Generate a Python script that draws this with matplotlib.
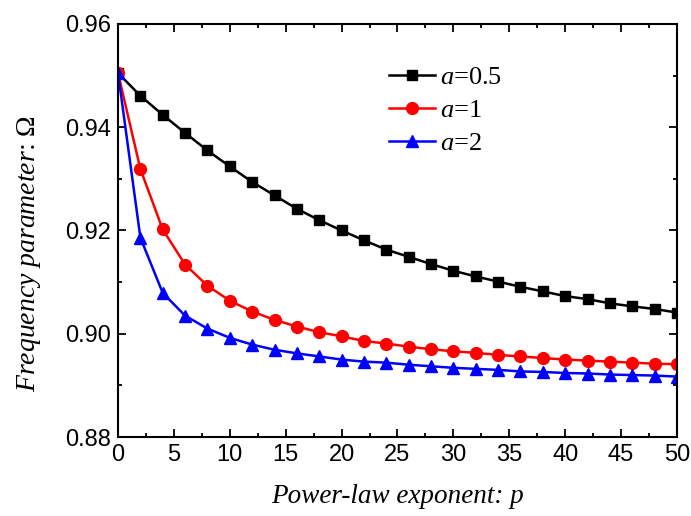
import matplotlib
matplotlib.use("Agg")
import matplotlib.pyplot as plt
from matplotlib.ticker import MultipleLocator

p = [0, 2, 4, 6, 8, 10, 12, 14, 16, 18, 20, 22, 24, 26, 28, 30, 32, 34, 36, 38, 40, 42, 44, 46, 48, 50]
omega_a05 = [0.9505, 0.9461, 0.9424, 0.9389, 0.9355, 0.9324, 0.9294, 0.9268, 0.9242, 0.9220,
             0.9200, 0.9181, 0.9163, 0.9149, 0.9135, 0.9122, 0.9111, 0.9101, 0.9091, 0.9082,
             0.9073, 0.9067, 0.9059, 0.9053, 0.9048, 0.9041]
omega_a1 = [0.9505, 0.9319, 0.9202, 0.9134, 0.9093, 0.9064, 0.9043, 0.9027, 0.9014, 0.9003,
            0.8995, 0.8986, 0.8981, 0.8975, 0.8970, 0.8966, 0.8963, 0.8959, 0.8956, 0.8953,
            0.8950, 0.8948, 0.8946, 0.8944, 0.8942, 0.8941]
omega_a2 = [0.9505, 0.9186, 0.9079, 0.9035, 0.9010, 0.8992, 0.8979, 0.8969, 0.8962, 0.8956,
            0.8950, 0.8946, 0.8944, 0.8940, 0.8937, 0.8934, 0.8932, 0.8930, 0.8927, 0.8926,
            0.8924, 0.8923, 0.8921, 0.8920, 0.8919, 0.8917]
labels = [r'$a$=0.5', r'$a$=1', r'$a$=2']

plt.rcParams['mathtext.fontset'] = 'custom'
plt.rcParams['mathtext.rm'] = 'Liberation Serif'
plt.rcParams['mathtext.it'] = 'Liberation Serif:italic'

fig = plt.figure(figsize=(6.91, 5.16), dpi=100)
ax = fig.add_axes([0.1708, 0.1531, 0.8089, 0.8004])

ax.plot(p, omega_a05, color='black', lw=1.8, marker='s', ms=7.5, label=labels[0])
ax.plot(p, omega_a1, color='red', lw=1.8, marker='o', ms=8.5, label=labels[1])
ax.plot(p, omega_a2, color='blue', lw=1.8, marker='^', ms=9, label=labels[2])

ax.set_xlim(0, 50)
ax.set_ylim(0.88, 0.96)
ax.xaxis.set_major_locator(MultipleLocator(5))
ax.xaxis.set_minor_locator(MultipleLocator(2.5))
ax.yaxis.set_minor_locator(MultipleLocator(0.01))
ax.set_yticks([0.88, 0.90, 0.92, 0.94, 0.96])
ax.set_yticklabels(['0.88', '0.90', '0.92', '0.94', '0.96'])

ax.tick_params(which='both', direction='in', top=True, right=True, width=1.3,
               labelsize=17, pad=5)
ax.tick_params(which='major', length=6)
ax.tick_params(which='minor', length=3)
for lab in ax.get_xticklabels() + ax.get_yticklabels():
    lab.set_fontfamily('Liberation Sans')
for s in ax.spines.values():
    s.set_linewidth(1.5)

ax.set_xlabel('Power-law exponent: p', fontsize=19.5, family='Liberation Serif',
              fontstyle='italic')
ax.xaxis.set_label_coords(0.5, -0.115)
ax.set_ylabel(r'$Frequency\ parameter$: $\mathrm{\Omega}$', fontsize=20, family='Liberation Serif')
ax.yaxis.set_label_coords(-0.134, 0.443)

leg = ax.legend(loc='upper left', bbox_to_anchor=(0.466, 0.925), frameon=False,
                prop={'family': 'Liberation Serif', 'size': 19},
                handlelength=1.74, handletextpad=0.2, labelspacing=0.36, borderaxespad=0)

fig.savefig('out.png', dpi=100)
